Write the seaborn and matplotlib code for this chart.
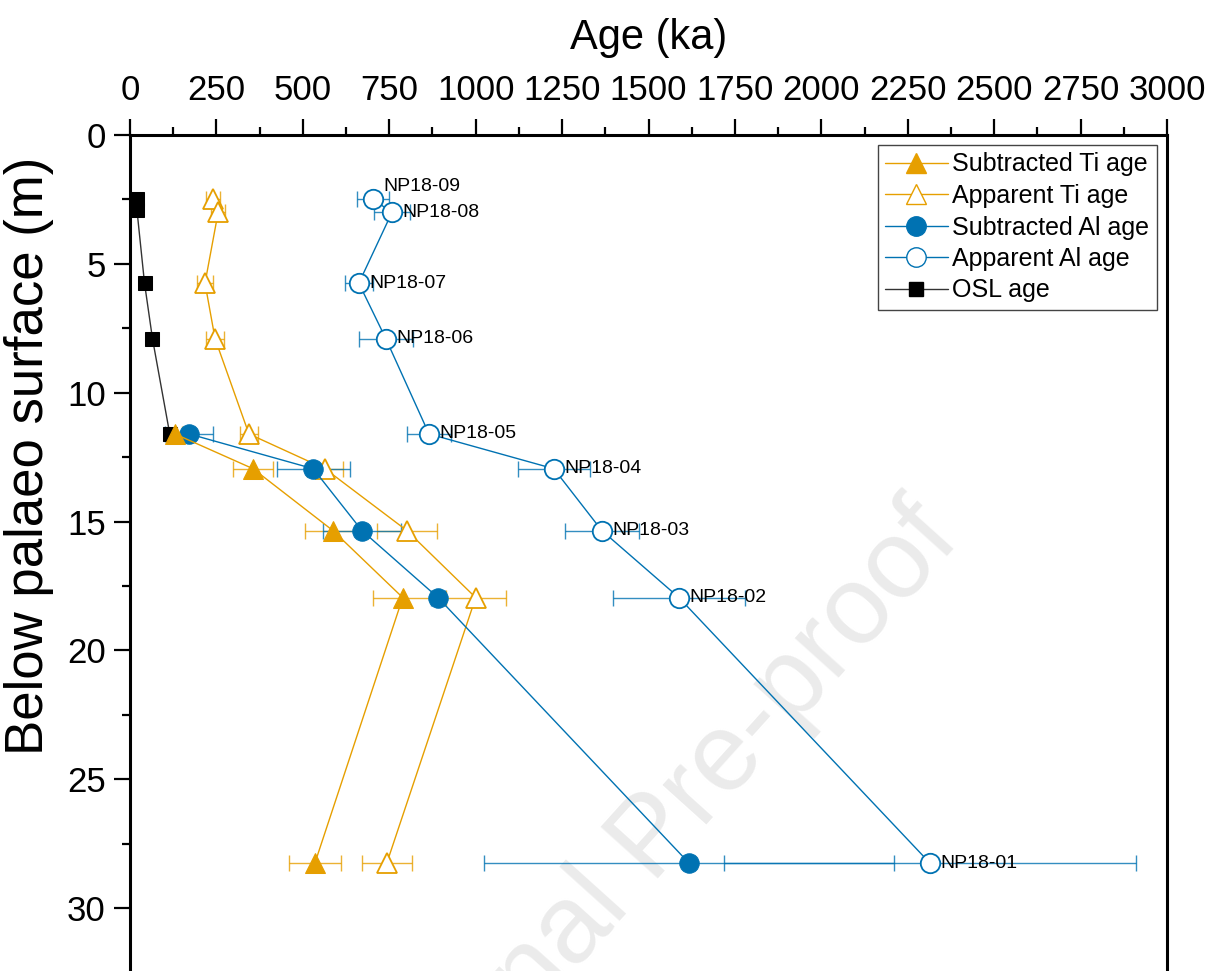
import numpy as np
import pandas as pd
import matplotlib
matplotlib.use("Agg")
import matplotlib.pyplot as plt
from matplotlib.lines import Line2D
from matplotlib.ticker import MultipleLocator
import seaborn as sns

# ---------------- data ----------------
samples = ["NP18-09", "NP18-08", "NP18-07", "NP18-06", "NP18-05",
           "NP18-04", "NP18-03", "NP18-02", "NP18-01"]
depth_all = [2.5, 3.0, 5.75, 7.9, 11.6, 12.95, 15.35, 17.95, 28.25]

app_al_age = [703, 758, 662, 740, 865, 1226, 1365, 1588, 2314]
app_al_err = [46, 52, 40, 78, 65, 104, 108, 190, 595]

app_ti_age = [240, 255, 217, 246, 344, 564, 801, 1000, 743]
app_ti_err = [20, 20, 24, 27, 27, 52, 86, 87, 72]

depth_lower = [11.6, 12.95, 15.35, 17.95, 28.25]
sub_al_age = [171, 530, 671, 891, 1617]
sub_al_err = [70, 106, 113, 20, 593]
sub_ti_age = [130, 356, 587, 789, 535]
sub_ti_err = [20, 58, 81, 87, 75]

depth_osl = [2.5, 2.9, 5.75, 7.9, 11.6]
osl_age = [20, 20, 42, 65, 115]

ORANGE = "#E69F00"
BLUE = "#0072B2"

# ---------------- figure ----------------
sns.set_theme(style="ticks")
plt.rcParams["font.family"] = ["Liberation Sans", "DejaVu Sans"]
plt.rcParams["text.color"] = "black"
plt.rcParams["axes.labelcolor"] = "black"
plt.rcParams["xtick.color"] = "black"
plt.rcParams["ytick.color"] = "black"

fig = plt.figure(figsize=(12.2, 9.71), dpi=100)
ax = fig.add_axes([130 / 1220, 0.0, (1167 - 130) / 1220, (971 - 135) / 971])

# watermark
ax.text(0.536, 0.135, "Journal Pre-proof", transform=fig.transFigure,
        rotation=48, rotation_mode="anchor", ha="center", va="center",
        fontsize=80, color="#EBEBEB", zorder=0, clip_on=False)

lw = 1.0
eb_kw = dict(fmt="none", elinewidth=1.0, capsize=6, capthick=1.0, alpha=0.8, zorder=2)

# error bars
ax.errorbar(sub_ti_age, depth_lower, xerr=sub_ti_err, ecolor=ORANGE, **eb_kw)
ax.errorbar(app_ti_age, depth_all, xerr=app_ti_err, ecolor=ORANGE, **eb_kw)
ax.errorbar(sub_al_age, depth_lower, xerr=sub_al_err, ecolor=BLUE, **eb_kw)
ax.errorbar(app_al_age, depth_all, xerr=app_al_err, ecolor=BLUE, **eb_kw)

# lines + markers through seaborn
common = dict(orient="y", sort=False, errorbar=None, linewidth=lw, ax=ax, legend=False)
sns.lineplot(x=osl_age, y=depth_osl, color="#333333", marker="s", markersize=10,
             markerfacecolor="black", markeredgecolor="black", zorder=3, **common)
sns.lineplot(x=app_ti_age, y=depth_all, color=ORANGE, marker="^", markersize=14,
             markerfacecolor="white", markeredgecolor=ORANGE, markeredgewidth=1.3,
             zorder=3, **common)
sns.lineplot(x=app_al_age, y=depth_all, color=BLUE, marker="o", markersize=14,
             markerfacecolor="white", markeredgecolor=BLUE, markeredgewidth=1.3,
             zorder=3, **common)
sns.lineplot(x=sub_al_age, y=depth_lower, color=BLUE, marker="o", markersize=14,
             markerfacecolor=BLUE, markeredgecolor=BLUE, zorder=4, **common)
sns.lineplot(x=sub_ti_age, y=depth_lower, color=ORANGE, marker="^", markersize=14,
             markerfacecolor=ORANGE, markeredgecolor=ORANGE, zorder=5, **common)

# sample labels
for name, a, d in zip(samples, app_al_age, depth_all):
    dy = 9 if name == "NP18-09" else 0
    ax.annotate(name, (a, d), xytext=(7.5, dy), textcoords="offset points",
                ha="left", va="center", fontsize=14, color="black", zorder=6)

# axes
ax.set_xlim(0, 3000)
ax.set_ylim(32.44, 0)
ax.xaxis.tick_top()
ax.xaxis.set_label_position("top")
ax.xaxis.set_major_locator(MultipleLocator(250))
ax.xaxis.set_minor_locator(MultipleLocator(125))
ax.yaxis.set_major_locator(MultipleLocator(5))
ax.yaxis.set_minor_locator(MultipleLocator(2.5))
ax.tick_params(which="major", direction="out", length=11.5, width=1.6,
               labelsize=25, color="black", labelcolor="black",
               top=True, bottom=False, right=False)
ax.tick_params(axis="x", which="major", pad=9)
ax.tick_params(axis="y", which="major", pad=6)
ax.tick_params(which="minor", direction="out", length=5.8, width=1.6,
               color="black", top=True, bottom=False, right=False)
for s in ["top", "left", "right"]:
    ax.spines[s].set_linewidth(2.2)
    ax.spines[s].set_color("black")
ax.spines["bottom"].set_visible(False)

ax.set_xlabel("Age (ka)", fontsize=30, labelpad=18, color="black")
ax.set_ylabel("Below palaeo surface (m)", fontsize=38, color="black")
ax.yaxis.set_label_coords(-0.073, 0.616)

# legend
handles = [
    Line2D([], [], color=ORANGE, lw=lw, marker="^", ms=14, mfc=ORANGE, mec=ORANGE),
    Line2D([], [], color=ORANGE, lw=lw, marker="^", ms=14, mfc="white", mec=ORANGE),
    Line2D([], [], color=BLUE, lw=lw, marker="o", ms=14, mfc=BLUE, mec=BLUE),
    Line2D([], [], color=BLUE, lw=lw, marker="o", ms=14, mfc="white", mec=BLUE),
    Line2D([], [], color="#333333", lw=lw, marker="s", ms=10, mfc="black", mec="black"),
]
labels = ["Subtracted Ti age", "Apparent Ti age", "Subtracted Al age",
          "Apparent Al age", "OSL age"]
leg = ax.legend(handles, labels, loc="upper right", fontsize=18, frameon=True,
                fancybox=False, edgecolor="#444444", framealpha=1,
                handlelength=2.5, handletextpad=0.2, labelspacing=0.3,
                borderpad=0.3, borderaxespad=0.4)
leg.get_frame().set_linewidth(1.0)
for t in leg.get_texts():
    t.set_color("black")

fig.savefig("out.png", dpi=100)
